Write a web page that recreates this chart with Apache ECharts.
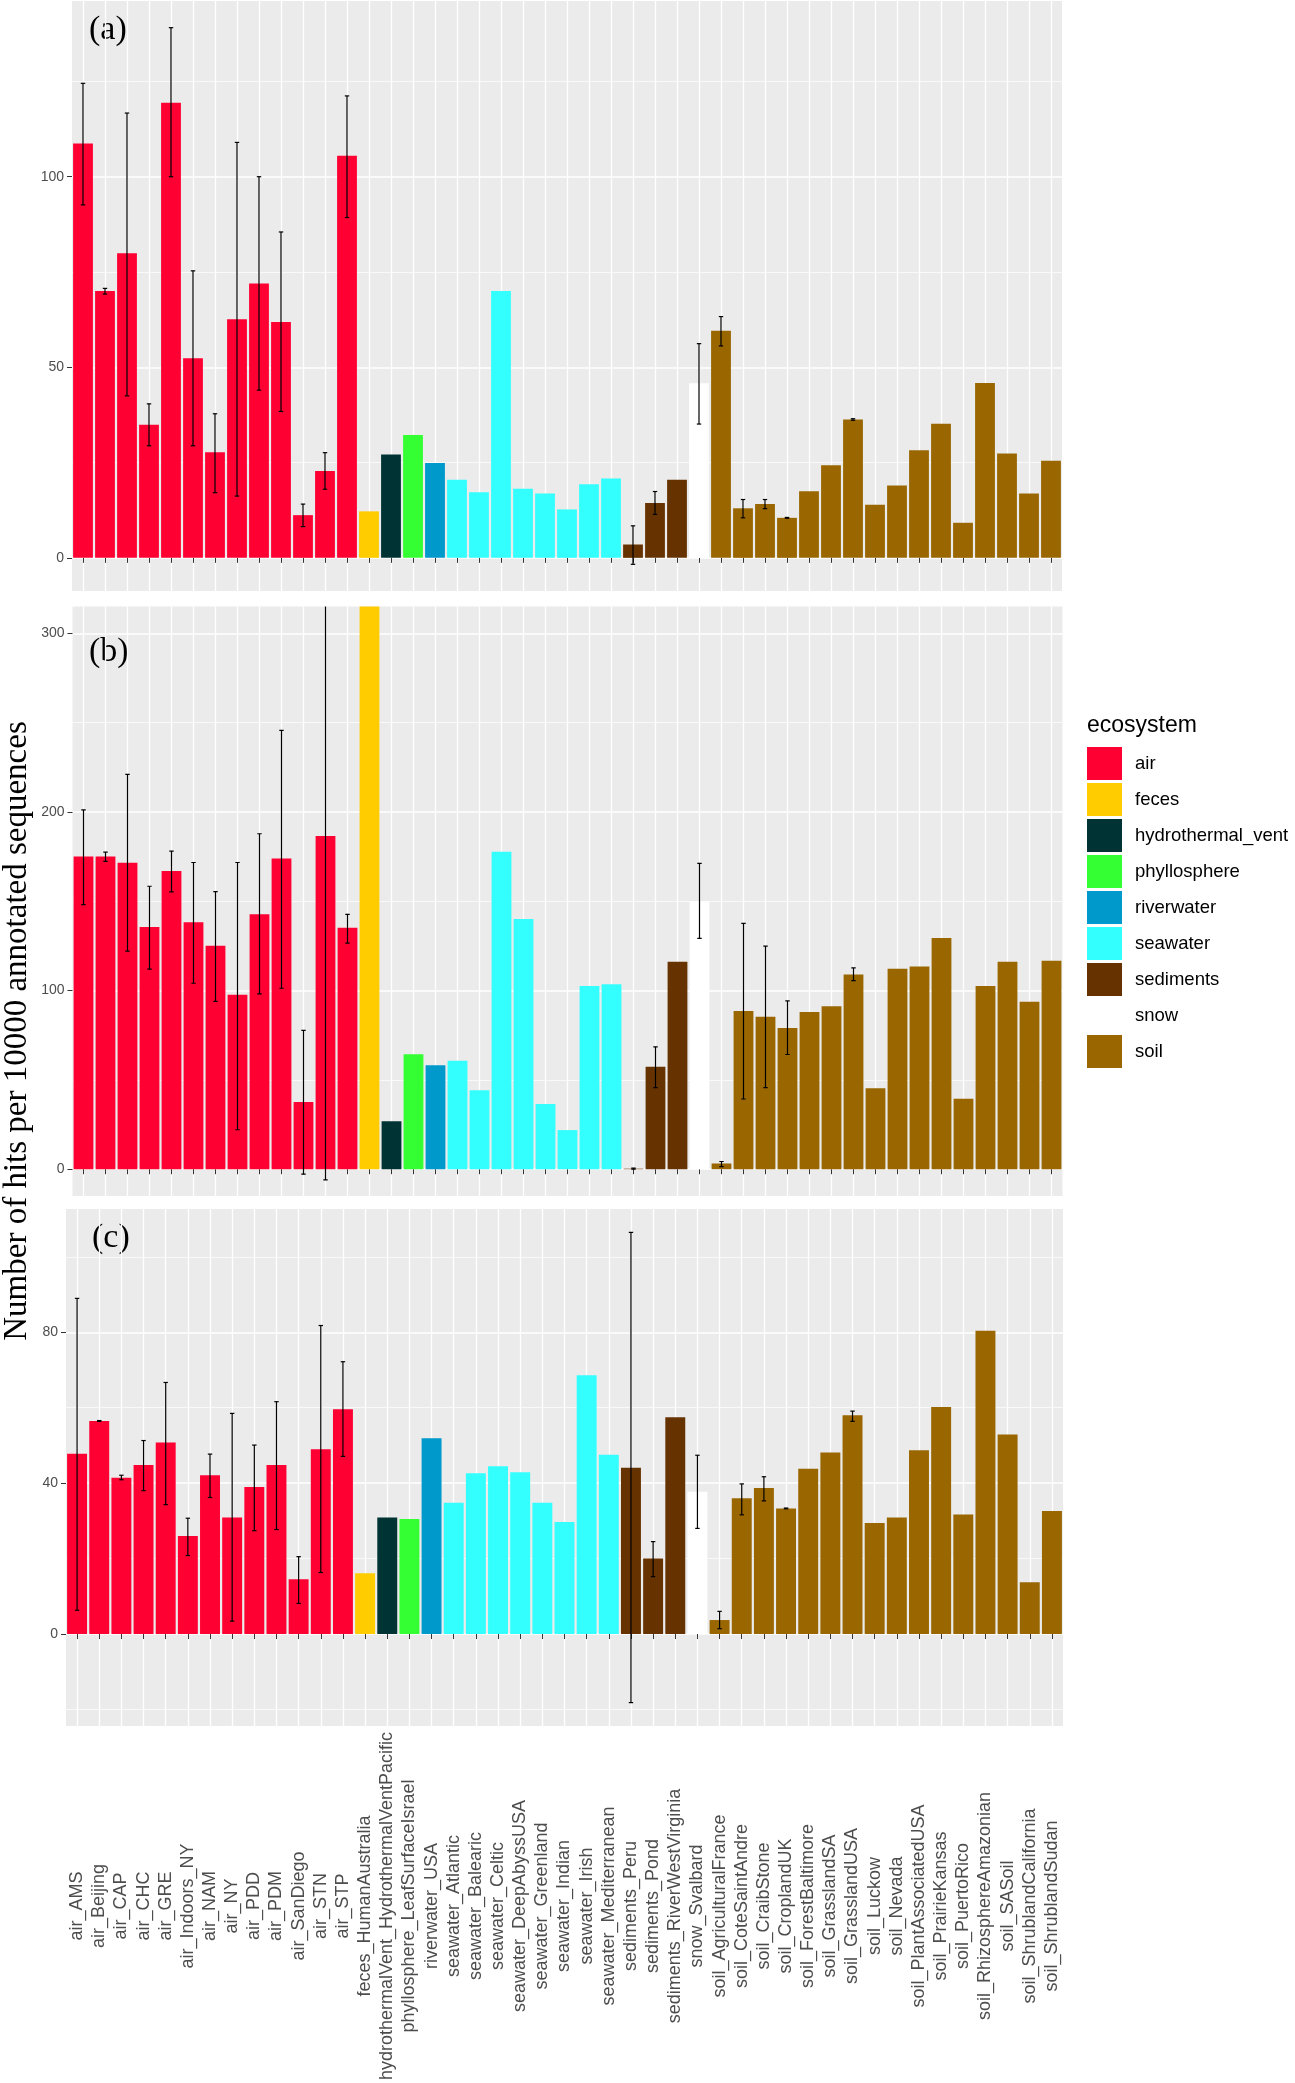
<!DOCTYPE html>
<html><head><meta charset="utf-8">
<script src="https://cdn.jsdelivr.net/npm/echarts@6/dist/echarts.min.js"></script>
<style>html,body{margin:0;padding:0;background:#fff}#c{width:1295px;height:2083px}</style>
</head><body><div id="c"></div>
<script>
const N = null;
const categories = ['air_AMS','air_Beijing','air_CAP','air_CHC','air_GRE','air_Indoors_NY','air_NAM','air_NY','air_PDD','air_PDM','air_SanDiego','air_STN','air_STP',
 'feces_HumanAustralia','hydrothermalVent_HydrothermalVentPacific','phyllosphere_LeafSurfaceIsrael','riverwater_USA',
 'seawater_Atlantic','seawater_Balearic','seawater_Celtic','seawater_DeepAbyssUSA','seawater_Greenland','seawater_Indian','seawater_Irish','seawater_Mediterranean',
 'sediments_Peru','sediments_Pond','sediments_RiverWestVirginia','snow_Svalbard',
 'soil_AgriculturalFrance','soil_CoteSaintAndre','soil_CraibStone','soil_CroplandUK','soil_ForestBaltimore','soil_GrasslandSA','soil_GrasslandUSA','soil_Luckow','soil_Nevada','soil_PlantAssociatedUSA','soil_PrairieKansas','soil_PuertoRico','soil_RhizosphereAmazonian','soil_SASoil','soil_ShrublandCalifornia','soil_ShrublandSudan'];
const categoryEcosystem = ['air','air','air','air','air','air','air','air','air','air','air','air','air',
 'feces','hydrothermal_vent','phyllosphere','riverwater',
 'seawater','seawater','seawater','seawater','seawater','seawater','seawater','seawater',
 'sediments','sediments','sediments','snow',
 'soil','soil','soil','soil','soil','soil','soil','soil','soil','soil','soil','soil','soil','soil','soil','soil'];
const ecosystems = ['air','feces','hydrothermal_vent','phyllosphere','riverwater','seawater','sediments','snow','soil'];
const ecosystemColors = ['#FF0033','#FFCC00','#003333','#33FF33','#0099CC','#33FFFF','#663300','#FFFFFF','#996600'];

// Panel (a)
const valuesA = [108.7,70.0,79.9,34.9,119.4,52.4,27.7,62.6,72.0,61.9,11.2,22.8,105.5, 12.2,27.1,32.2,24.9, 20.5,17.2,70.0,18.1,16.9,12.7,19.3,20.8, 3.5,14.4,20.5,45.8, 59.6,13.0,14.1,10.5,17.5,24.3,36.3,13.9,19.0,28.2,35.2,9.2,45.9,27.4,16.9,25.5];
const lowA  = [92.6,69.2,42.5,29.4,100.0,29.4,17.1,16.2,44.0,38.4,8.2,18.0,89.3, N,N,N,N, N,N,N,N,N,N,N,N, -1.7,11.4,N,35.1, 55.6,10.5,12.9,10.4,N,N,36.1,N,N,N,N,N,N,N,N,N];
const highA = [124.5,70.7,116.7,40.4,139.1,75.3,37.8,109.0,100.0,85.5,14.1,27.6,121.2, N,N,N,N, N,N,N,N,N,N,N,N, 8.4,17.4,N,56.2, 63.3,15.3,15.3,10.6,N,N,36.5,N,N,N,N,N,N,N,N,N];
// Panel (b)
const valuesB = [175.1,175.1,171.5,135.6,167.0,138.2,125.1,97.6,142.7,174.0,37.6,186.5,135.2, 330,26.8,64.4,58.2, 60.7,44.2,177.7,140.1,36.5,21.9,102.6,103.6, 0.3,57.3,116.1,150.0, 3.2,88.6,85.4,79.0,88.0,91.2,109.0,45.3,112.2,113.5,129.4,39.5,102.6,116.1,93.8,116.7];
const lowB  = [148.1,172.3,122.1,112.0,155.2,104.1,94.0,22.1,98.1,101.3,-2.8,-6.0,126.6, N,N,N,N, N,N,N,N,N,N,N,N, 0,45.7,N,129.2, 1.5,39.3,45.7,64.2,N,N,105.6,N,N,N,N,N,N,N,N,N];
const highB = [201.1,177.5,221.0,158.4,178.1,171.7,155.4,171.7,187.8,245.7,77.7,379,142.7, N,N,N,N, N,N,N,N,N,N,N,N, 0.6,68.5,N,171.2, 4.3,137.6,124.9,94.2,N,N,112.7,N,N,N,N,N,N,N,N,N];
// Panel (c)
const valuesC = [47.8,56.5,41.4,44.8,50.8,26.0,42.1,30.9,39.0,44.8,14.5,49.0,59.6, 16.1,30.9,30.5,51.9, 34.8,42.6,44.5,42.9,34.8,29.7,68.6,47.5, 44.1,20.0,57.5,37.7, 3.7,36.0,38.7,33.3,43.8,48.1,58.0,29.4,30.9,48.7,60.2,31.7,80.4,52.9,13.7,32.6];
const lowC  = [6.3,56.4,40.9,38.0,34.3,20.8,36.2,3.4,27.4,27.7,8.1,16.3,47.1, N,N,N,N, N,N,N,N,N,N,N,N, -18.2,15.2,N,28.0, 1.4,31.6,35.3,33.2,N,N,56.4,N,N,N,N,N,N,N,N,N];
const highC = [89.0,56.6,42.1,51.3,66.7,30.7,47.7,58.5,50.1,61.6,20.5,81.8,72.2, N,N,N,N, N,N,N,N,N,N,N,N, 106.5,24.5,N,47.4, 6.0,39.8,41.7,33.4,N,N,59.1,N,N,N,N,N,N,N,N,N];

const ticksA = [0,50,100];
const ticksB = [0,100,200,300];
const ticksC = [0,40,80];

const panels = [
  {tag:'(a)', values:valuesA, low:lowA, high:highA, ticks:ticksA, min:-8.7, max:146.1, step:50, grid:{left:72, top:1, width:990, height:590}, tagPos:[89,30]},
  {tag:'(b)', values:valuesB, low:lowB, high:highB, ticks:ticksB, min:-15, max:315, step:100, grid:{left:72.5, top:606.5, width:990, height:589.5}, tagPos:[89,652]},
  {tag:'(c)', values:valuesC, low:lowC, high:highC, ticks:ticksC, min:-24.4, max:112.7, step:40, grid:{left:66, top:1209, width:997, height:517}, tagPos:[92,1238]}
];

const FONT = '"Liberation Sans", Arial, sans-serif';
const SERIF = '"Liberation Serif", "Times New Roman", serif';

const grids = [], xAxes = [], yAxes = [], series = [], graphics = [];
panels.forEach((p, pi) => {
  grids.push(Object.assign({show:true, backgroundColor:'#EBEBEB', borderWidth:0, outerBoundsMode:'none', containLabel:false}, p.grid));
  xAxes.push({
    gridIndex:pi, type:'category', data:categories, boundaryGap:true,
    axisLine:{show:false},
    axisTick:{show:true, alignWithLabel:true, length:5, lineStyle:{color:'#333', width:1}},
    axisLabel:{show: pi===2, interval:0, rotate:90, align:'center', verticalAlign:'middle', margin:180, fontSize:18, color:'#4D4D4D', fontFamily:FONT},
    splitLine:{show:true, alignWithLabel:true, lineStyle:{color:'#FFFFFF', width:1.3}}
  });
  yAxes.push({
    gridIndex:pi, type:'value', min:p.min, max:p.max, minInterval:p.step, maxInterval:p.step, splitNumber:3,
    axisLine:{show:false},
    axisTick:{show:true, length:5, lineStyle:{color:'#333', width:1}, customValues:p.ticks},
    axisLabel:{customValues:p.ticks, fontSize:14, color:'#4D4D4D', margin:8, fontFamily:FONT},
    splitLine:{show:true, lineStyle:{color:'#FFFFFF', width:1.5}},
    minorTick:{show:false, splitNumber:2},
    minorSplitLine:{show:true, lineStyle:{color:'#FFFFFF', width:0.7}}
  });
  ecosystems.forEach((e, ei) => {
    series.push({
      type:'bar', name:e, xAxisIndex:pi, yAxisIndex:pi,
      barGap:'-100%', barCategoryGap:'10%',
      itemStyle:{color:ecosystemColors[ei]},
      data:p.values.map((v, i) => categoryEcosystem[i] === e ? v : '-'),
      animation:false, silent:true
    });
  });
  const errData = [];
  p.low.forEach((lo, i) => { if (lo !== null && p.high[i] !== null) errData.push([i, lo, p.high[i]]); });
  series.push({
    type:'custom', name:'err' + pi, xAxisIndex:pi, yAxisIndex:pi, clip:true, z:5, silent:true, animation:false,
    encode:{x:0, y:[1,2]},
    data:errData,
    renderItem:function(params, api){
      const x = api.value(0);
      const a = api.coord([x, api.value(1)]);
      const b = api.coord([x, api.value(2)]);
      const hw = 2.2;
      const st = {stroke:'#000', lineWidth:1.2};
      return {type:'group', children:[
        {type:'line', shape:{x1:a[0], y1:a[1], x2:b[0], y2:b[1]}, style:st},
        {type:'line', shape:{x1:a[0]-hw, y1:a[1], x2:a[0]+hw, y2:a[1]}, style:st},
        {type:'line', shape:{x1:b[0]-hw, y1:b[1], x2:b[0]+hw, y2:b[1]}, style:st}
      ]};
    }
  });
  graphics.push({type:'text', x:p.tagPos[0], y:p.tagPos[1], silent:true,
    style:{text:p.tag, font:'34px ' + SERIF, fill:'#000', align:'left', verticalAlign:'middle'}});
});

graphics.push({type:'text', x:17, y:1031, rotation:Math.PI/2, silent:true,
  style:{text:'Number of hits per 10000 annotated sequences', font:'33px ' + SERIF, fill:'#000', align:'center', verticalAlign:'middle'}});

const chart = echarts.init(document.getElementById('c'), null, {renderer:'canvas', width:1295, height:2083});
chart.setOption({
  animation:false,
  backgroundColor:'#FFFFFF',
  title:{text:'ecosystem', left:1087, top:714, padding:0, textStyle:{fontSize:23, fontWeight:'normal', color:'#000', fontFamily:FONT}},
  legend:{data:ecosystems, orient:'vertical', left:1087, top:747, padding:0, itemWidth:35, itemHeight:33, itemGap:3, icon:'rect', selectedMode:false,
    textStyle:{fontSize:18.5, color:'#000', fontFamily:FONT, padding:[0,0,0,8]}},
  grid:grids, xAxis:xAxes, yAxis:yAxes, series:series, graphic:graphics
});
</script></body></html>
